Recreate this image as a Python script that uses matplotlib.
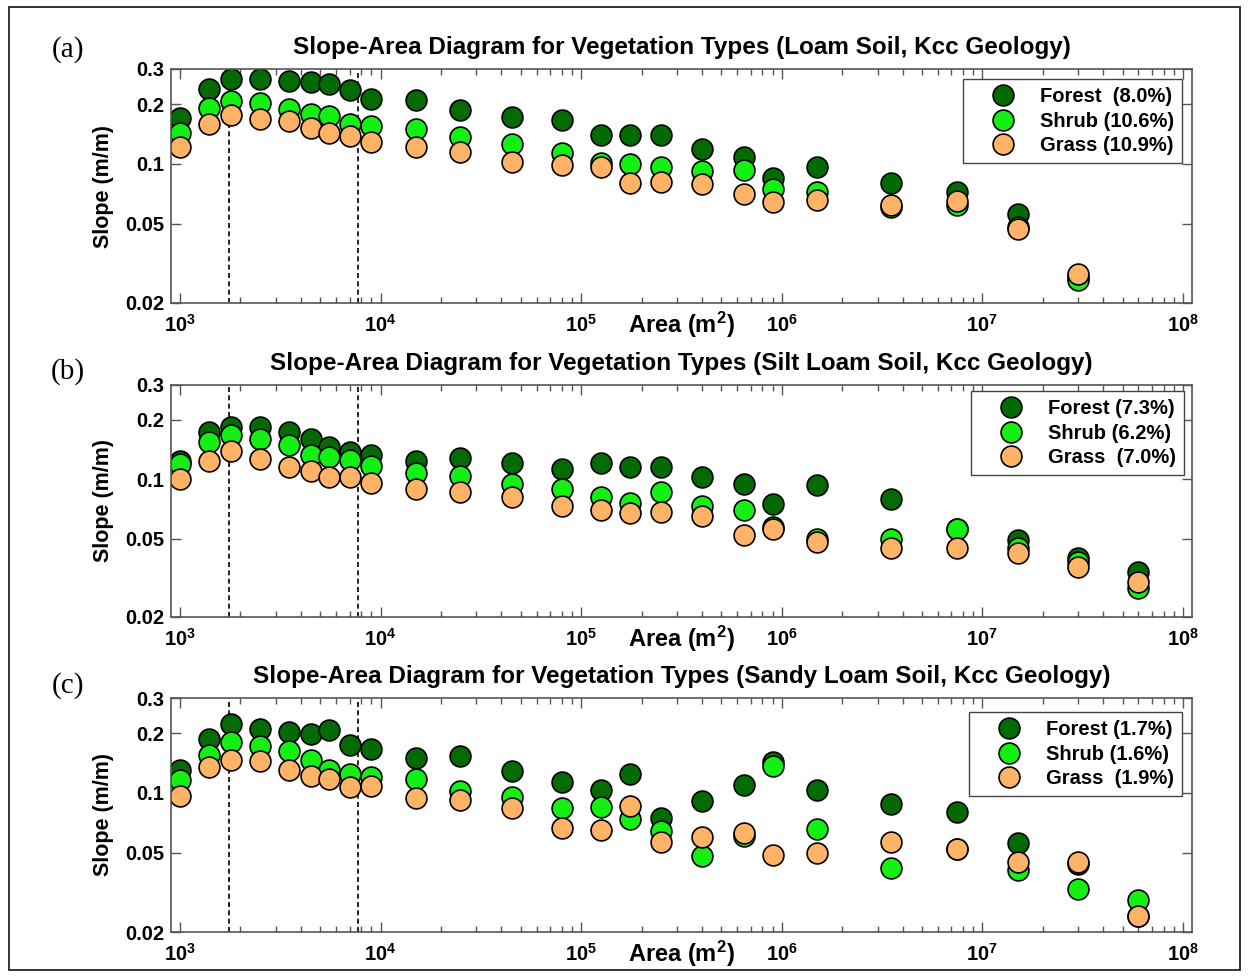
import numpy as np
import matplotlib
matplotlib.use('Agg')
import matplotlib.pyplot as plt
from matplotlib.patches import Rectangle
from matplotlib.ticker import FixedLocator, LogLocator, NullFormatter, NullLocator

plt.rcParams['font.family'] = ['Liberation Sans', 'DejaVu Sans']
plt.rcParams['font.weight'] = 'bold'
plt.rcParams['mathtext.fontset'] = 'custom'
plt.rcParams['mathtext.rm'] = 'Liberation Sans:bold'
plt.rcParams['mathtext.it'] = 'Liberation Sans:bold'
plt.rcParams['mathtext.bf'] = 'Liberation Sans:bold'

# drainage area bins (m^2)
area = [1000, 1400, 1800, 2500, 3500, 4500, 5500, 7000, 9000, 15000, 25000, 45000,
        80000, 125000, 175000, 250000, 400000, 650000, 900000, 1.5e6, 3.5e6, 7.5e6,
        1.5e7, 3e7, 6e7]

# (a) loam soil
forest_a = [0.170, 0.238, 0.267, 0.267, 0.262, 0.257, 0.252, 0.236, 0.213, 0.210, 0.186, 0.173,
            0.166, 0.140, 0.139, 0.140, 0.119, 0.108, 0.085, 0.096, 0.080, 0.072, 0.056, 0.027]
shrub_a = [0.143, 0.192, 0.206, 0.202, 0.189, 0.179, 0.175, 0.159, 0.156, 0.149, 0.136, 0.126,
           0.113, 0.101, 0.100, 0.097, 0.092, 0.093, 0.075, 0.072, 0.061, 0.062, 0.048, 0.026]
grass_a = [0.122, 0.159, 0.177, 0.168, 0.164, 0.151, 0.143, 0.138, 0.129, 0.122, 0.115, 0.102,
           0.099, 0.096, 0.080, 0.081, 0.079, 0.071, 0.064, 0.066, 0.062, 0.065, 0.047, 0.028]

# (b) silt loam soil
forest_b = [0.124, 0.173, 0.183, 0.183, 0.173, 0.159, 0.146, 0.137, 0.133, 0.124, 0.128, 0.120,
            0.112, 0.120, 0.115, 0.115, 0.102, 0.094, 0.075, 0.093, 0.079, 0.056, 0.049, 0.040, 0.034]
shrub_b = [0.119, 0.154, 0.167, 0.159, 0.149, 0.133, 0.129, 0.125, 0.116, 0.107, 0.104, 0.094,
           0.089, 0.081, 0.076, 0.086, 0.073, 0.070, 0.057, 0.050, 0.050, 0.056, 0.045, 0.038, 0.028]
grass_b = [0.100, 0.124, 0.139, 0.126, 0.115, 0.110, 0.103, 0.103, 0.096, 0.089, 0.086, 0.081,
           0.073, 0.070, 0.067, 0.068, 0.065, 0.052, 0.056, 0.048, 0.045, 0.045, 0.042, 0.036, 0.030]

# (c) sandy loam soil
forest_c = [0.130, 0.186, 0.223, 0.209, 0.202, 0.197, 0.206, 0.175, 0.167, 0.150, 0.154, 0.129,
            0.114, 0.103, 0.124, 0.075, 0.091, 0.110, 0.143, 0.103, 0.088, 0.080, 0.056, 0.044, 0.024]
shrub_c = [0.116, 0.156, 0.180, 0.172, 0.163, 0.147, 0.131, 0.124, 0.120, 0.117, 0.102, 0.095,
           0.084, 0.085, 0.074, 0.064, 0.048, 0.061, 0.136, 0.066, 0.042, 0.052, 0.041, 0.033, 0.029]
grass_c = [0.096, 0.135, 0.146, 0.144, 0.131, 0.121, 0.117, 0.107, 0.108, 0.094, 0.092, 0.084,
           0.067, 0.065, 0.086, 0.057, 0.060, 0.063, 0.049, 0.050, 0.057, 0.052, 0.045, 0.045, 0.024]

soils = ['Loam Soil', 'Silt Loam Soil', 'Sandy Loam Soil']
panel_tags = ['(a)', '(b)', '(c)']
legend_labels = [['Forest  (8.0%)', 'Shrub (10.6%)', 'Grass (10.9%)'],
                 ['Forest (7.3%)', 'Shrub (6.2%)', 'Grass  (7.0%)'],
                 ['Forest (1.7%)', 'Shrub (1.6%)', 'Grass  (1.9%)']]
series = [[forest_a, shrub_a, grass_a],
          [forest_b, shrub_b, grass_b],
          [forest_c, shrub_c, grass_c]]
break_areas = [1750, 7750]

yticks = [0.02, 0.05, 0.1, 0.2, 0.3]
ytick_labels = ['0.02', '0.05', '0.1', '0.2', '0.3']
xticks = [1e3, 1e4, 1e5, 1e6, 1e7, 1e8]
xtick_labels = [r'$10^{%d}$' % k for k in range(3, 9)]

colors = ['#046a04', '#14f014', '#ffb366']

W, H = 1249, 977
fig = plt.figure(figsize=(W / 100, H / 100), dpi=100)

# axes boxes in pixels: (top, bottom)
boxes = [(69, 303), (385, 617), (698, 932)]
left_px, right_px = 171, 1192
legend_boxes = [(1182, 79), (1184, 391), (1182, 712)]
tag_y = [50, 372, 686]

for i in range(3):
    top, bot = boxes[i]
    ax = fig.add_axes([left_px / W, (H - bot) / H, (right_px - left_px) / W, (bot - top) / H])
    ax.set_xscale('log')
    ax.set_yscale('log')
    for ys, c, lab in zip(series[i], colors, legend_labels[i]):
        ax.plot(area[:len(ys)], ys, linestyle='none', marker='o', markersize=15,
                markerfacecolor=c, markeredgecolor='black', markeredgewidth=1.2, label=lab)
    for xb in break_areas:
        ax.axvline(xb, color='black', linestyle=(0, (3, 2)), linewidth=1.2, zorder=1)

    ax.set_xlim(10 ** 2.955, 10 ** 8.045)
    ax.set_ylim(0.02, 0.3)
    ax.yaxis.set_major_locator(FixedLocator(yticks))
    ax.yaxis.set_minor_locator(NullLocator())
    ax.set_yticklabels(ytick_labels)
    ax.xaxis.set_major_locator(FixedLocator(xticks))
    ax.xaxis.set_minor_locator(LogLocator(base=10, subs=np.arange(2, 10)))
    ax.xaxis.set_minor_formatter(NullFormatter())
    ax.set_xticklabels(xtick_labels)

    for sp in ax.spines.values():
        sp.set_color('#555555')
        sp.set_linewidth(1.2)
    ax.tick_params(which='both', direction='in', top=True, right=True, color='#555555')
    ax.tick_params(which='major', length=7, width=1.0, labelsize=14.5)
    ax.tick_params(which='minor', length=4, width=1.0)
    ax.tick_params(axis='x', pad=8)
    ax.tick_params(axis='y', pad=5)

    ax.set_title('Slope-Area Diagram for Vegetation Types (%s, Kcc Geology)' % soils[i],
                 fontsize=17.5, fontweight='bold', pad=11)
    ax.set_ylabel('Slope (m/m)', fontsize=15.5, fontweight='bold')
    ax.yaxis.set_label_coords(-0.056, 0.5)
    ax.text(0.5, -0.03, 'Area (m$^2$)', transform=ax.transAxes, ha='center', va='top',
            fontsize=17, fontweight='bold')

    lx, ly = legend_boxes[i]
    leg = ax.legend(loc='upper right',
                    bbox_to_anchor=((lx - left_px) / (right_px - left_px), (bot - ly) / (bot - top)),
                    borderaxespad=0, fancybox=False, framealpha=1, edgecolor='#444444',
                    numpoints=1, handlelength=3.1, handletextpad=0.3, labelspacing=0.28,
                    borderpad=0.4, prop={'size': 14.5, 'weight': 'bold'})
    leg.get_frame().set_linewidth(1.0)

    fig.text(68 / W, 1 - tag_y[i] / H, panel_tags[i], family='Liberation Serif',
             fontweight='normal', fontsize=21, ha='center', va='center')

fig.patches.append(Rectangle((9 / W, 7 / H), 1231 / W, 963 / H, transform=fig.transFigure,
                             fill=False, edgecolor='#222222', linewidth=1.3))

fig.savefig('out.png', dpi=100)
